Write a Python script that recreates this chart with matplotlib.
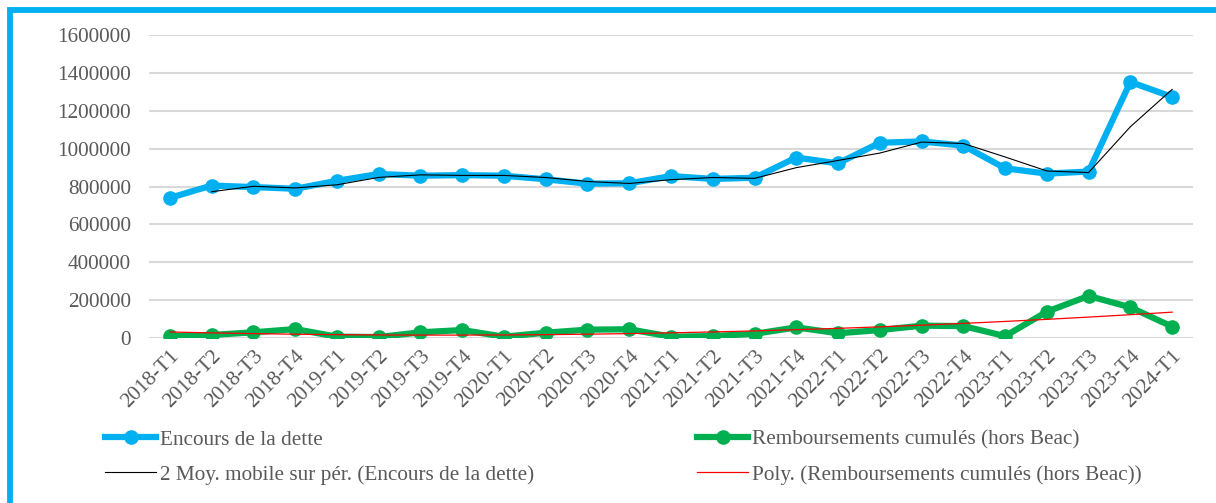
import numpy as np
import matplotlib
matplotlib.use("Agg")
import matplotlib.pyplot as plt
from matplotlib.lines import Line2D
from matplotlib.patches import Rectangle

categories = ["2018-T1", "2018-T2", "2018-T3", "2018-T4",
              "2019-T1", "2019-T2", "2019-T3", "2019-T4",
              "2020-T1", "2020-T2", "2020-T3", "2020-T4",
              "2021-T1", "2021-T2", "2021-T3", "2021-T4",
              "2022-T1", "2022-T2", "2022-T3", "2022-T4",
              "2023-T1", "2023-T2", "2023-T3", "2023-T4", "2024-T1"]

encours = [740000, 805000, 797000, 788000, 830000, 866000, 857000, 860000,
           857000, 838000, 815000, 817000, 855000, 840000, 846000, 953000,
           922000, 1031000, 1038000, 1016000, 896000, 868000, 879000,
           1352000, 1273000]

remboursements = [10000, 16000, 30000, 47000, 7000, 5000, 30000, 42000,
                  7000, 28000, 44000, 46000, 7000, 10000, 22000, 56000,
                  25000, 42000, 65000, 63000, 10000, 139000, 222000,
                  162000, 60000]

yticks = [0, 200000, 400000, 600000, 800000, 1000000, 1200000, 1400000, 1600000]

label_encours = "Encours de la dette"
label_remb = "Remboursements cumulés (hors Beac)"
label_ma = "2 Moy. mobile sur pér. (Encours de la dette)"
label_poly = "Poly. (Remboursements cumulés (hors Beac))"

BLUE = "#00B0F0"
GREEN = "#00B050"
TXT = "#595959"
FS = 15.3

plt.rcParams["font.family"] = ["Liberation Serif", "DejaVu Serif"]

fig = plt.figure(figsize=(12.16, 5.03), dpi=100)
ax = fig.add_axes([149 / 1216, 1 - 338 / 503, (1193 - 149) / 1216, (338 - 35) / 503])

x = np.arange(len(categories))
enc = np.array(encours, dtype=float)
rem = np.array(remboursements, dtype=float)

ax.plot(x, enc, color=BLUE, lw=4.5, marker="o", ms=9.5, zorder=3,
        solid_joinstyle="round")
ax.plot(x, rem, color=GREEN, lw=4.5, marker="o", ms=9.5, zorder=3,
        solid_joinstyle="round")

# trendlines (as in Excel): 2-period moving average and polynomial fit
ma = (enc[1:] + enc[:-1]) / 2
ax.plot(x[1:], ma, color="black", lw=0.8, zorder=4)
coef = np.polyfit(x, rem, 2)
ax.plot(x, np.polyval(coef, x), color="red", lw=0.9, zorder=4)

ax.set_xlim(-0.5, len(categories) - 0.5)
ax.set_ylim(0, 1600000)
ax.set_yticks(yticks)
ax.set_yticklabels([str(v) for v in yticks])
ax.set_xticks(x)
ax.set_xticklabels(categories, rotation=45, ha="right", rotation_mode="anchor")
ax.grid(axis="y", color="#D9D9D9", lw=1.5, zorder=0)
ax.set_axisbelow(True)
for s in ax.spines.values():
    s.set_visible(False)
ax.tick_params(axis="both", length=0, labelsize=FS, colors=TXT)
ax.tick_params(axis="y", pad=13)
ax.tick_params(axis="x", pad=6)

# legends
h1 = Line2D([], [], color=BLUE, lw=4.5, marker="o", ms=9.5, markevery=[1])
h2 = Line2D([], [], color=GREEN, lw=4.5, marker="o", ms=9.5, markevery=[1])
h3 = Line2D([], [], color="black", lw=0.8)
h4 = Line2D([], [], color="red", lw=0.9)
legkw = dict(frameon=False, fontsize=FS, labelcolor=TXT, loc="upper left",
             handlelength=2.4, handletextpad=0.2, labelspacing=0.7,
             borderpad=0, borderaxespad=0)
fig.legend([h1, h3], [label_encours, label_ma],
           bbox_to_anchor=(105 / 1216, 1 - 430 / 503), **legkw)
fig.legend([h2, h4], [label_remb, label_poly],
           bbox_to_anchor=(697 / 1216, 1 - 430 / 503), **legkw)

# blue chart border (top and left visible)
fig.patches.append(Rectangle((9.5 / 1216, -0.1), 1.2, 1 - 10 / 503 + 0.1,
                             transform=fig.transFigure, fill=False,
                             edgecolor=BLUE, lw=4.2, zorder=10))

fig.savefig("out.png", dpi=100)
